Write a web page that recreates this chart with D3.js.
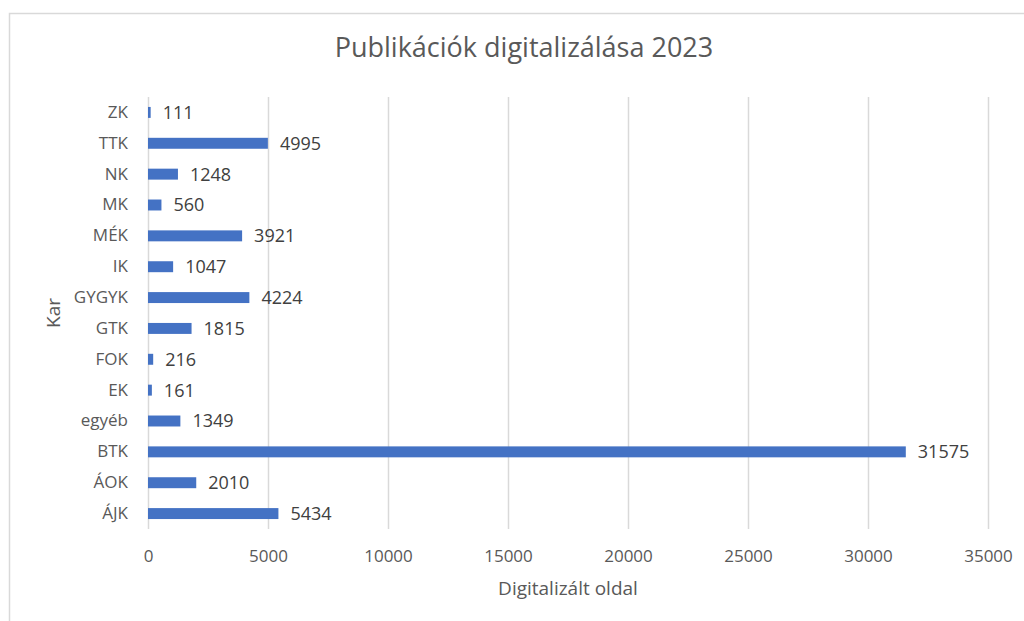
<!DOCTYPE html>
<html>
<head>
<meta charset="utf-8">
<script src="https://cdn.jsdelivr.net/npm/d3@7"></script>
<style>
  body { margin: 0; background: #fff; }
  svg { display: block; font-family: 'Open Sans', sans-serif; }
</style>
</head>
<body>
<div id="chart"></div>
<script>
// data, listed top to bottom as in the chart
const categories = ['ZK', 'TTK', 'NK', 'MK', 'MÉK', 'IK', 'GYGYK', 'GTK', 'FOK', 'EK', 'egyéb', 'BTK', 'ÁOK', 'ÁJK'];
const values = [111, 4995, 1248, 560, 3921, 1047, 4224, 1815, 216, 161, 1349, 31575, 2010, 5434];
const xTicks = [0, 5000, 10000, 15000, 20000, 25000, 30000, 35000];

const title = 'Publikációk digitalizálása 2023';
const xTitle = 'Digitalizált oldal';
const yTitle = 'Kar';

const width = 1024;
const height = 621;
const plot = { left: 148, right: 988, top: 97, bottom: 529 };
const font = "'Open Sans', sans-serif";

const svg = d3.select('#chart')
  .append('svg')
  .attr('width', width)
  .attr('height', height);

svg.append('rect')
  .attr('width', width)
  .attr('height', height)
  .attr('fill', '#fff');

// chart frame, runs off the right and bottom of the window
svg.append('rect')
  .attr('x', 9.5)
  .attr('y', 13.5)
  .attr('width', 1040)
  .attr('height', 640)
  .attr('fill', 'none')
  .attr('stroke', '#d9d9d9')
  .attr('stroke-width', 1.5);

const x = d3.scaleLinear()
  .domain([0, 35000])
  .range([plot.left, plot.right]);

const y = d3.scaleBand()
  .domain(categories)
  .range([plot.top, plot.bottom])
  .paddingInner(0.645)
  .paddingOuter(0.3225);

// x axis + vertical gridlines
const xAxis = svg.append('g')
  .attr('transform', `translate(0,${plot.bottom})`)
  .call(d3.axisBottom(x)
    .tickValues(xTicks)
    .tickFormat(d3.format('d'))
    .tickSizeInner(-(plot.bottom - plot.top))
    .tickSizeOuter(0)
    .tickPadding(20.5));

xAxis.attr('font-family', font).attr('font-size', null);
xAxis.select('.domain').remove();
xAxis.selectAll('line')
  .attr('stroke', '#d9d9d9')
  .attr('stroke-width', 1.5);
xAxis.selectAll('text')
  .attr('fill', '#595959')
  .style('font-size', '17px');

// y axis labels
const yAxis = svg.append('g')
  .attr('transform', `translate(${plot.left},0)`)
  .call(d3.axisLeft(y).tickSize(0).tickPadding(20));

yAxis.attr('font-family', font).attr('font-size', null);
yAxis.select('.domain').remove();
yAxis.selectAll('text')
  .attr('fill', '#595959')
  .style('font-size', '17px');

const rows = categories.map((c, i) => ({ cat: c, value: values[i] }));

svg.append('g')
  .selectAll('rect')
  .data(rows)
  .join('rect')
  .attr('x', x(0))
  .attr('y', d => y(d.cat))
  .attr('width', d => x(d.value) - x(0))
  .attr('height', y.bandwidth())
  .attr('fill', '#4472c4');

svg.append('g')
  .selectAll('text')
  .data(rows)
  .join('text')
  .attr('x', d => x(d.value) + 12)
  .attr('y', d => y(d.cat) + y.bandwidth() / 2)
  .attr('dy', '0.36em')
  .attr('fill', '#404040')
  .style('font-size', '18px')
  .text(d => d.value);

svg.append('text')
  .attr('x', 524)
  .attr('y', 57)
  .attr('text-anchor', 'middle')
  .attr('fill', '#595959')
  .style('font-size', '27px')
  .text(title);

svg.append('text')
  .attr('x', (plot.left + plot.right) / 2)
  .attr('y', 595)
  .attr('text-anchor', 'middle')
  .attr('fill', '#595959')
  .style('font-size', '19px')
  .text(xTitle);

svg.append('text')
  .attr('transform', `translate(60,${(plot.top + plot.bottom) / 2}) rotate(-90)`)
  .attr('text-anchor', 'middle')
  .attr('fill', '#595959')
  .style('font-size', '19px')
  .text(yTitle);
</script>
</body>
</html>
